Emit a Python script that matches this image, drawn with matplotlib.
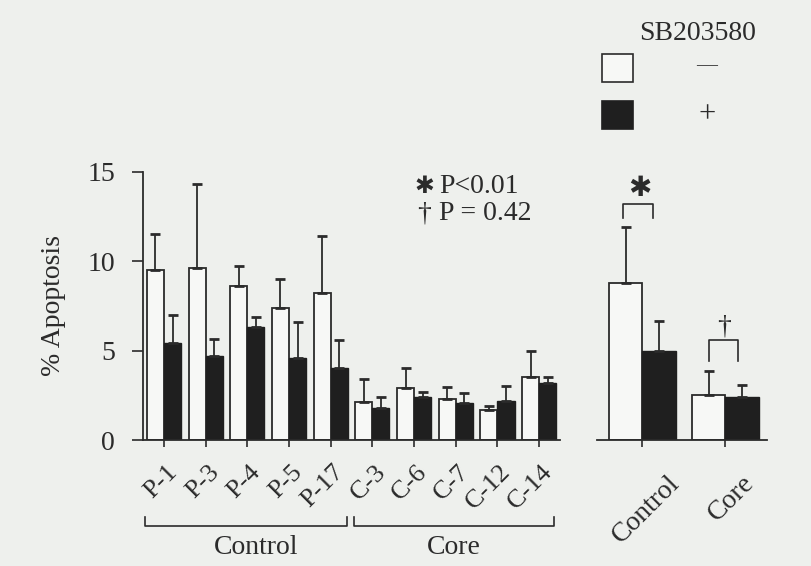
import numpy as np
import matplotlib.pyplot as plt
from matplotlib.patches import Rectangle

plt.rcParams['font.family'] = ['Liberation Serif', 'DejaVu Sans']

# left panel: individual cases
cases = ['P-1', 'P-3', 'P-4', 'P-5', 'P-17', 'C-3', 'C-6', 'C-7', 'C-12', 'C-14']
minus_mean = [9.5, 9.6, 8.6, 7.4, 8.2, 2.1, 2.9, 2.3, 1.7, 3.5]
minus_err = [2.0, 4.7, 1.1, 1.6, 3.2, 1.3, 1.1, 0.65, 0.2, 1.5]
plus_mean = [5.4, 4.7, 6.3, 4.6, 4.0, 1.8, 2.4, 2.05, 2.2, 3.2]
plus_err = [1.6, 0.95, 0.55, 2.0, 1.6, 0.6, 0.3, 0.6, 0.8, 0.35]

# right panel: group means
groups = ['Control', 'Core']
grp_minus = [8.8, 2.5]
grp_minus_err = [3.1, 1.35]
grp_plus = [5.0, 2.4]
grp_plus_err = [1.65, 0.7]

bg = '#eef0ed'
ink = '#2b2b2b'
dark = '#1f1f1f'
fs = 20

fig = plt.figure(figsize=(8.11, 5.66), dpi=100, facecolor=bg)
W, H = 811.0, 566.0

def fx(px):
    return px / W

def fy(py):
    return 1 - py / H

y0, y15 = 440.0, 171.7
ax = fig.add_axes([fx(142.7), fy(y0), fx(560 - 142.7), (y0 - y15) / H])
ax.set_facecolor('none')
x = np.arange(len(cases))
bw = 0.41
ekw = dict(ecolor=ink, capsize=3.4, elinewidth=1.3, capthick=2.0)
ax.bar(x, minus_mean, width=-bw, align='edge', color='#f7f8f6', edgecolor=ink, linewidth=1.3)
ax.bar(x, plus_mean, width=bw, align='edge', color=dark, edgecolor=dark, linewidth=1.0)
ax.errorbar(x - bw / 2, minus_mean, yerr=[np.zeros(len(x)), minus_err], fmt='none', **ekw)
ax.errorbar(x + bw / 2, plus_mean, yerr=[np.zeros(len(x)), plus_err], fmt='none', **ekw)
ax.set_xlim(-0.51, 9.5)
ax.set_ylim(0, 15)
ax.set_yticks([0, 5, 10, 15])
ax.set_yticklabels(['0', '5', '10', '15'], fontsize=fs, color=ink)
ax.set_xticks(x)
ax.set_xticklabels([])
ax.tick_params(axis='y', length=8, width=1.2, color=ink, pad=12)
ax.tick_params(axis='x', length=5, width=1.2, color=ink)
for s in ['top', 'right']:
    ax.spines[s].set_visible(False)
for s in ['left', 'bottom']:
    ax.spines[s].set_color(ink)
    ax.spines[s].set_linewidth(1.3)
for i, lab in enumerate(cases):
    ax.text(i + 0.24, -1.6, lab, rotation=45, ha='right', va='center',
            rotation_mode='anchor', fontsize=19, color=ink, clip_on=False)

# group brackets below the case labels
def bracket(a, b, ytop, ybot, axes):
    axes.plot([a, a, b, b], [ytop, ybot, ybot, ytop], color=ink, lw=1.2, clip_on=False)

bracket(-0.45, 4.4, -4.3, -4.8, ax)
bracket(4.55, 9.35, -4.3, -4.8, ax)
ax.text(2.2, -6.0, 'Control', ha='center', va='center', fontsize=fs, color=ink, clip_on=False)
ax.text(6.95, -6.0, 'Core', ha='center', va='center', fontsize=fs, color=ink, clip_on=False)
ax.set_ylabel('% Apoptosis', fontsize=fs, color=ink, labelpad=15)

# p-value key
ax.text(6.25, 14.2, '✱', ha='center', va='center', fontsize=17, color=ink,
        family=['DejaVu Sans'])
ax.text(6.25, 12.65, '†', ha='center', va='center', fontsize=fs, color=ink)
ax.text(6.6, 14.2, 'P<0.01', ha='left', va='center', fontsize=fs, color=ink)
ax.text(6.6, 12.65, 'P = 0.42', ha='left', va='center', fontsize=fs, color=ink)

# right panel: pooled groups
ax2 = fig.add_axes([fx(597), fy(y0), fx(767 - 597), (y0 - y15) / H])
ax2.set_facecolor('none')
g = np.arange(len(groups))
gw = 0.4
ax2.bar(g, grp_minus, width=-gw, align='edge', color='#f7f8f6', edgecolor=ink, linewidth=1.3)
ax2.bar(g, grp_plus, width=gw, align='edge', color=dark, edgecolor=dark, linewidth=1.0)
ax2.errorbar(g - gw / 2, grp_minus, yerr=[np.zeros(2), grp_minus_err], fmt='none', **ekw)
ax2.errorbar(g + gw / 2, grp_plus, yerr=[np.zeros(2), grp_plus_err], fmt='none', **ekw)
ax2.set_xlim(-0.548, 1.5)
ax2.set_ylim(0, 15)
ax2.set_yticks([])
ax2.set_xticks(g)
ax2.set_xticklabels([])
ax2.tick_params(axis='x', length=5, width=1.2, color=ink)
for s in ['top', 'right', 'left']:
    ax2.spines[s].set_visible(False)
ax2.spines['bottom'].set_color(ink)
ax2.spines['bottom'].set_linewidth(1.3)
for i, (lab, off) in enumerate(zip(groups, [0.4, 0.3])):
    ax2.text(i + off, -2.2, lab, rotation=45, ha='right', va='center',
             rotation_mode='anchor', fontsize=fs, color=ink, clip_on=False)

# significance brackets
bracket(-0.23, 0.13, 12.4, 13.2, ax2)
ax2.text(-0.03, 14.1, '✱', ha='center', va='center', fontsize=20, color=ink,
         family=['DejaVu Sans'])
bracket(0.8, 1.15, 4.4, 5.6, ax2)
ax2.text(0.98, 6.3, '†', ha='center', va='center', fontsize=fs, color=ink)

# legend drawn by hand
fig.text(fx(698), fy(33), 'SB203580', ha='center', va='center', fontsize=fs, color=ink)
fig.patches.append(Rectangle((fx(602), fy(82)), fx(31), 28 / H, transform=fig.transFigure,
                             facecolor='#f7f8f6', edgecolor=ink, linewidth=1.2))
fig.patches.append(Rectangle((fx(602), fy(129)), fx(31), 28 / H, transform=fig.transFigure,
                             facecolor=dark, edgecolor=dark, linewidth=1.2))
fig.text(fx(707), fy(66), '—', ha='center', va='center', fontsize=15, color=ink)
fig.text(fx(707), fy(115), '+', ha='center', va='center', fontsize=22, color=ink)

fig.savefig('out.png', dpi=100, facecolor=bg)
